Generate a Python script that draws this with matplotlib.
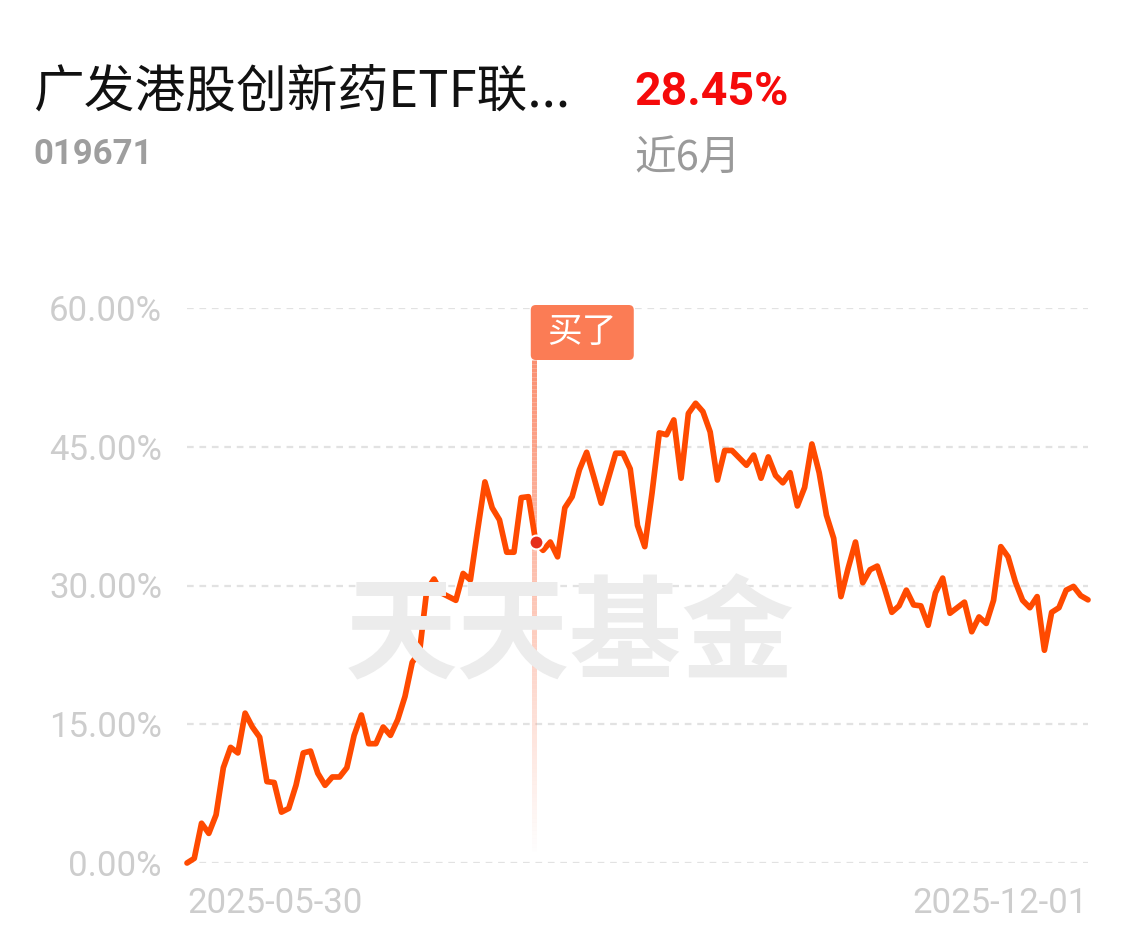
import numpy as np
import matplotlib.pyplot as plt
from matplotlib.patches import FancyBboxPatch
from matplotlib.collections import LineCollection
from matplotlib.transforms import ScaledTranslation

# fund header
fund_name = "广发港股创新药ETF联..."
fund_code = "019671"
period_return = "28.45%"
period_label = "近6月"
date_labels = ["2025-05-30", "2025-12-01"]
y_ticks = [0, 15, 30, 45, 60]

# cumulative return (%), one value per trading day
returns = [
    0.0, 0.5, 4.3, 3.2, 5.2, 10.3, 12.5, 11.9, 16.2, 14.7,
    13.6, 8.8, 8.7, 5.5, 5.9, 8.4, 11.9, 12.1, 9.7, 8.4,
    9.3, 9.3, 10.3, 13.8, 16.0, 12.9, 12.9, 14.7, 13.8, 15.5,
    18.0, 21.7, 22.8, 29.5, 30.7, 29.2, 28.8, 28.4, 31.3, 30.6,
    36.0, 41.2, 38.4, 37.1, 33.6, 33.6, 39.5, 39.6, 34.7, 33.8,
    34.7, 33.1, 38.4, 39.6, 42.5, 44.4, 41.7, 38.9, 41.6, 44.3,
    44.3, 42.6, 36.5, 34.2, 40.0, 46.5, 46.3, 47.9, 41.6, 48.6,
    49.7, 48.8, 46.6, 41.4, 44.6, 44.6, 43.8, 43.0, 44.1, 41.6,
    43.9, 41.9, 41.1, 42.2, 38.6, 40.6, 45.3, 42.2, 37.6, 35.1,
    28.8, 31.9, 34.7, 30.3, 31.7, 32.1, 29.7, 27.1, 27.8, 29.5,
    27.9, 27.8, 25.7, 29.2, 30.8, 27.0, 27.6, 28.2, 25.0, 26.6,
    25.9, 28.4, 34.2, 33.1, 30.4, 28.4, 27.6, 28.8, 23.0, 27.1,
    27.6, 29.5, 29.9, 28.9, 28.45,
]
buy_index = 48
buy_label = "买了"

cjk = ["Noto Sans CJK SC", "DejaVu Sans"]
num = ["Roboto", "DejaVu Sans"]

W, H = 1138, 949
fig = plt.figure(figsize=(W / 100, H / 100), dpi=100)
fig.patch.set_facecolor("white")

# header texts
fig.text(33 / W, 1 - 92 / H, fund_name, family=cjk, fontsize=36.5, color="#111111", va="center")
fig.text(33 / W, 1 - 154 / H, fund_code, family=num, fontsize=25, fontweight="bold",
         color="#9E9E9E", va="center")
fig.text(634 / W, 1 - 92 / H, period_return, family=num, fontsize=33.5, fontweight="bold",
         color="#F50A0A", va="center")
fig.text(634 / W, 1 - 158 / H, period_label, family=cjk, fontsize=30, color="#9A9A9A", va="center")

# watermark
fig.text(570 / W, 1 - 637 / H, "天天基金", family=cjk, fontsize=81, fontweight="bold",
         color="#ECECEC", ha="center", va="center", zorder=0)

ax = fig.add_axes([187 / W, 86 / H, 901 / W, 555 / H])
ax.patch.set_alpha(0)
x = np.arange(len(returns))
ax.set_xlim(0, len(returns) - 1)
ax.set_ylim(0, 60)

for v in y_ticks:
    ax.axhline(v, color="#E2E2E2", lw=1.6, ls=(0, (3, 2.6)), zorder=1)

ax.plot(x, returns, color="#FF4A00", lw=4.1, solid_joinstyle="round",
        solid_capstyle="round", clip_on=False, zorder=3)

# buy marker: flag label, fading stem and dot
flag = fig.dpi_scale_trans + ScaledTranslation(buy_index, y_ticks[-1], ax.transData)
box = FancyBboxPatch((-0.05, -0.52), 1.03, 0.55, boxstyle="round,pad=0,rounding_size=0.05",
                     fc="#FB7C55", ec="none", transform=flag, clip_on=False, zorder=5)
ax.add_patch(box)
ax.text(0.465, -0.245, buy_label, transform=flag, family=cjk, fontsize=25, color="white",
        ha="center", va="center", zorder=6, clip_on=False)

stem_y = np.linspace(-0.52, -5.47, 120)
segs = [[(-0.02, stem_y[i]), (-0.02, stem_y[i + 1])] for i in range(len(stem_y) - 1)]
alphas = np.linspace(0.85, 0.0, len(segs))
cols = [(0.98, 0.49, 0.35, a) for a in alphas]
ax.add_collection(LineCollection(segs, colors=cols, linewidths=3.6, transform=flag,
                                 zorder=2, clip_on=False))
ax.plot([buy_index], [returns[buy_index]], "o", ms=10, mfc="#E62E1C", mec="white",
        mew=1.5, zorder=7, clip_on=False)

# axes cosmetics
for s in ax.spines.values():
    s.set_visible(False)
ax.set_yticks(y_ticks)
ax.set_yticklabels([f"{v:.2f}%" for v in y_ticks], family=num, fontsize=25, color="#CDCDCD")
ax.set_xticks([0, len(returns) - 1])
ax.set_xticklabels(date_labels, family=num, fontsize=25, color="#CDCDCD")
xl = ax.get_xticklabels()
xl[0].set_ha("left")
xl[1].set_ha("right")
ax.tick_params(axis="y", length=0, pad=18)
ax.tick_params(axis="x", length=0, pad=17)

fig.savefig("out.png", dpi=100, facecolor="white")
